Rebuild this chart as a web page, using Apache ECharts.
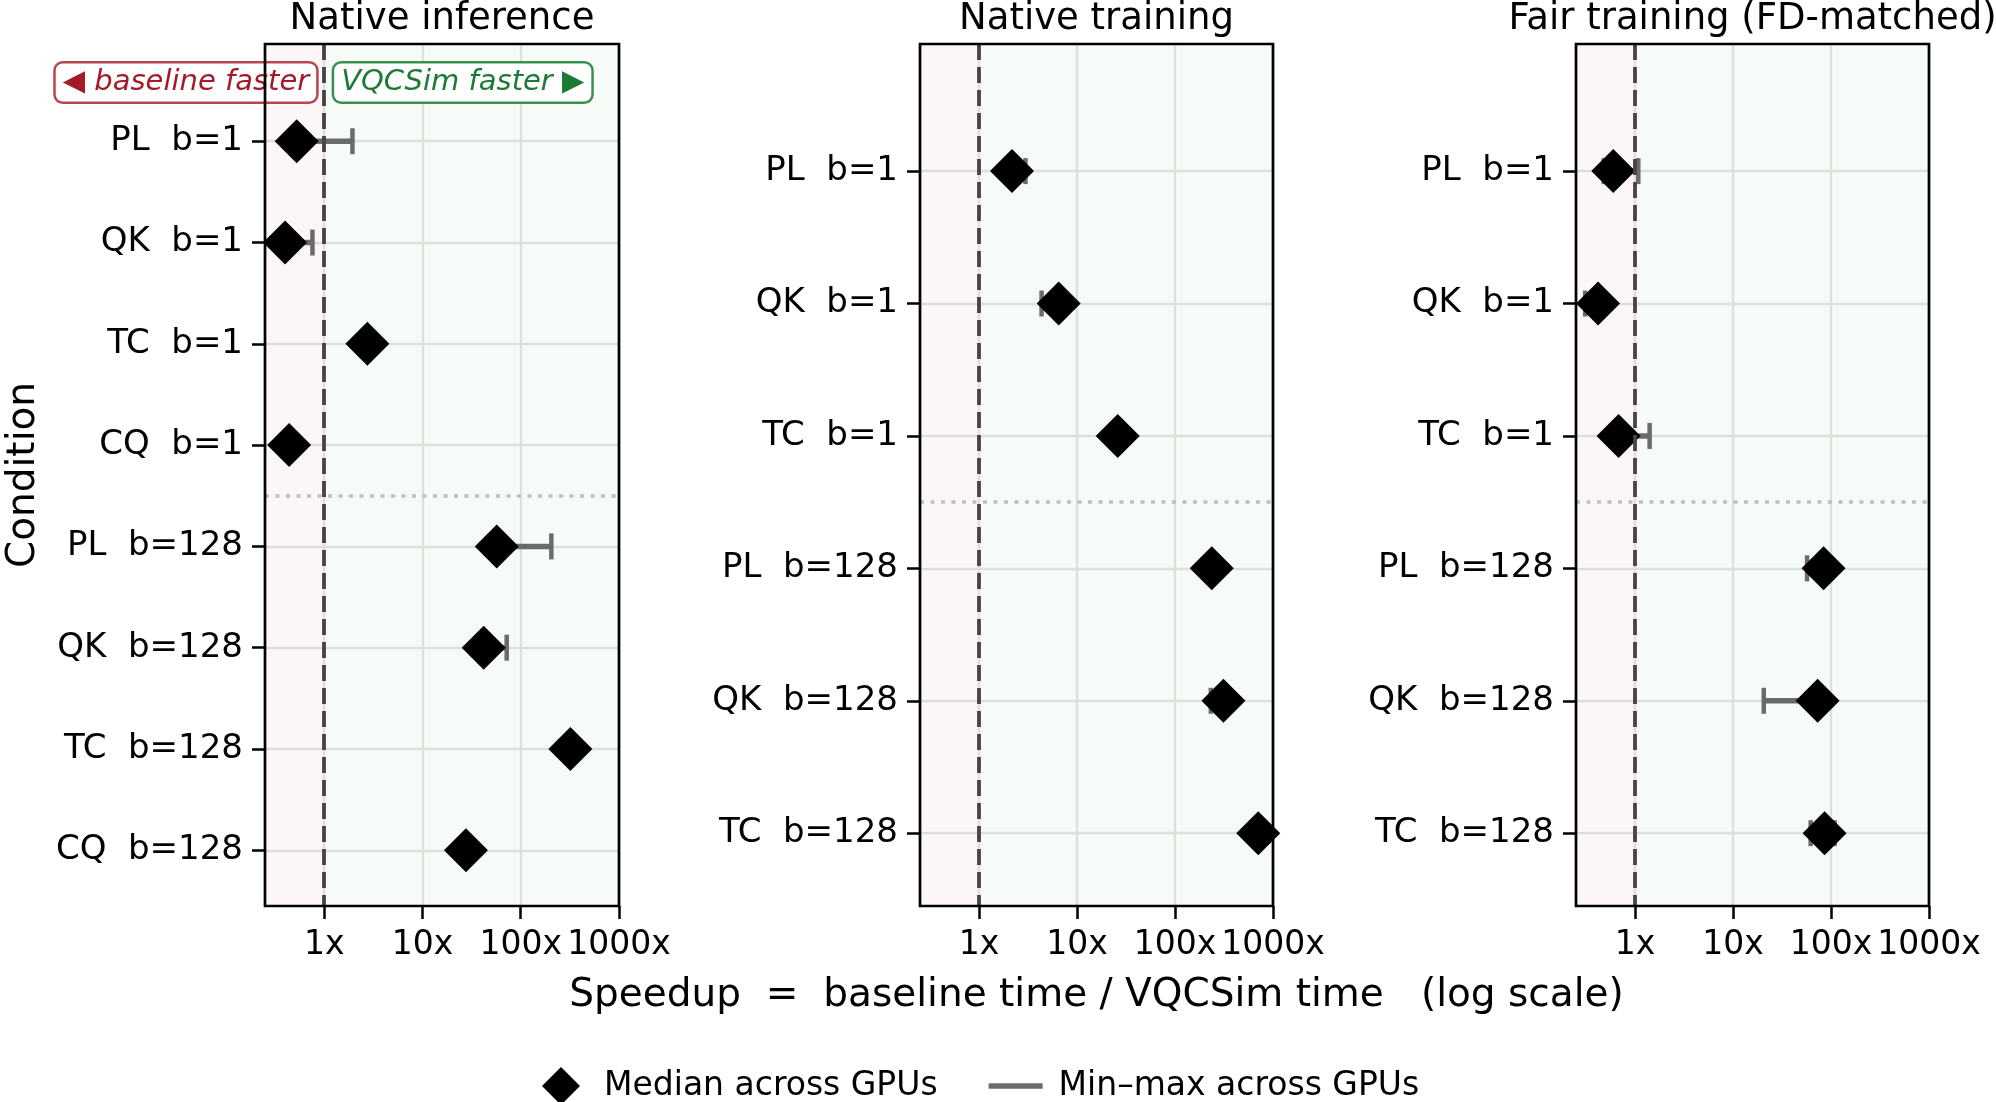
<!DOCTYPE html>
<html>
<head>
<meta charset="utf-8">
<script src="https://cdn.jsdelivr.net/npm/echarts@6/dist/echarts.min.js"></script>
<style>
  html, body { margin: 0; padding: 0; background: #fff; }
  #speedup-chart { width: 1996px; height: 1102px; }
</style>
</head>
<body>
<div id="speedup-chart"></div>
<script>
// panel titles
const panelTitles = ['Native inference', 'Native training', 'Fair training (FD-matched)'];

// row labels
const inferenceLabels = ['PL  b=1', 'QK  b=1', 'TC  b=1', 'CQ  b=1', 'PL  b=128', 'QK  b=128', 'TC  b=128', 'CQ  b=128'];
const trainingLabels = ['PL  b=1', 'QK  b=1', 'TC  b=1', 'PL  b=128', 'QK  b=128', 'TC  b=128'];

// speedup (baseline / VQCSim)
const inferenceMedian = [0.525, 0.40, 2.75, 0.44, 57, 42, 320, 27.7];
const inferenceMin = [0.50, 0.38, 2.7, 0.43, 55, 40, 310, 27];
const inferenceMax = [1.94, 0.76, 2.8, 0.45, 205, 72, 330, 28.5];

const trainingMedian = [2.17, 6.5, 26, 237, 312, 707];
const trainingMin = [1.85, 4.35, 25, 225, 232, 690];
const trainingMax = [2.98, 7.0, 27, 250, 330, 720];

const fairMedian = [0.60, 0.42, 0.68, 84, 73, 86];
const fairMin = [0.48, 0.31, 0.62, 57, 20.6, 62];
const fairMax = [1.08, 0.45, 1.41, 90, 80, 109];

const xTicks = [1, 10, 100, 1000];
const annotations = ['◀ baseline faster', 'VQCSim faster ▶'];

const FONT = 'DejaVu Sans';
const BAR = '#6b6b6b';
const GRIDLINE = '#e2e4e2';

const panels = [
  {labels: inferenceLabels, med: inferenceMedian, lo: inferenceMin, hi: inferenceMax, split: 3.5},
  {labels: trainingLabels, med: trainingMedian, lo: trainingMin, hi: trainingMax, split: 2.5},
  {labels: trainingLabels, med: fairMedian, lo: fairMin, hi: fairMax, split: 2.5}
];
const gridBoxes = [
  {left: 265, top: 44, width: 354, height: 862},
  {left: 920, top: 44, width: 353, height: 862},
  {left: 1576, top: 44, width: 353, height: 862}
];

function renderBar(params, api) {
  const y = api.value(2);
  const a = api.coord([api.value(0), y]);
  const b = api.coord([api.value(1), y]);
  const h = 13;
  return {
    type: 'group',
    children: [
      {type: 'line', shape: {x1: a[0], y1: a[1], x2: b[0], y2: b[1]}, style: {stroke: BAR, lineWidth: 5.5}},
      {type: 'line', shape: {x1: a[0], y1: a[1] - h, x2: a[0], y2: a[1] + h}, style: {stroke: BAR, lineWidth: 4.5}},
      {type: 'line', shape: {x1: b[0], y1: b[1] - h, x2: b[0], y2: b[1] + h}, style: {stroke: BAR, lineWidth: 4.5}}
    ]
  };
}

const xAxes = [];
const yAxes = [];
const series = [];

panels.forEach((p, i) => {
  const rows = p.labels.map((_, k) => k);
  xAxes.push({
    type: 'log', logBase: 10, gridIndex: i, min: 0.25, max: 1000,
    axisLine: {show: false, onZero: false},
    axisTick: {show: true, customValues: xTicks, length: 13, lineStyle: {color: '#000', width: 2.5}},
    axisLabel: {customValues: xTicks, formatter: v => Math.round(v) + 'x', margin: 23,
      fontSize: 33, color: '#000', fontFamily: FONT},
    splitLine: {show: true, lineStyle: {color: GRIDLINE, width: 2.4}},
    name: i === 1 ? 'Speedup  =  baseline time / VQCSim time   (log scale)' : '',
    nameLocation: 'middle', nameGap: 70,
    nameTextStyle: {fontSize: 39, color: '#000', fontFamily: FONT}
  });
  yAxes.push({
    type: 'value', gridIndex: i, inverse: true, min: -0.96, max: p.labels.length - 0.45,
    axisLine: {show: false, onZero: false},
    axisTick: {show: true, customValues: rows, length: 13, lineStyle: {color: '#000', width: 2.5}},
    axisLabel: {customValues: rows, formatter: v => p.labels[Math.round(v)], margin: 22,
      fontSize: 34, color: '#000', fontFamily: FONT},
    splitLine: {show: true, lineStyle: {color: GRIDLINE, width: 2.4}},
    name: i === 0 ? 'Condition' : '',
    nameLocation: 'middle', nameGap: 222,
    nameTextStyle: {fontSize: 39, color: '#000', fontFamily: FONT}
  });

  // min-max bars + shaded regions + group separator
  series.push({
    name: 'Min–max across GPUs', type: 'custom', xAxisIndex: i, yAxisIndex: i, z: 2,
    itemStyle: {color: BAR},
    encode: {x: [0, 1], y: 2},
    data: rows.map(k => [p.lo[k], p.hi[k], k]),
    renderItem: renderBar,
    markArea: {
      silent: true,
      data: [
        [{xAxis: 0.25, itemStyle: {color: 'rgba(214,39,40,0.045)'}}, {xAxis: 1}],
        [{xAxis: 1, itemStyle: {color: 'rgba(44,160,44,0.04)'}}, {xAxis: 1000}]
      ]
    },
    markLine: {
      silent: true, symbol: 'none', label: {show: false},
      lineStyle: {color: '#c0c0c0', type: [4, 6.5], width: 3.6},
      data: [{yAxis: p.split}]
    }
  });

  series.push({
    name: 'Median across GPUs', type: 'scatter', xAxisIndex: i, yAxisIndex: i, z: 3,
    symbol: 'diamond', symbolSize: 44,
    itemStyle: {color: '#000', opacity: 1},
    data: rows.map(k => [p.med[k], k])
  });

  // parity line at 1x (drawn on top)
  const ref = {
    name: 'parity', type: 'line', xAxisIndex: i, yAxisIndex: i, z: 4, data: [],
    markLine: {
      silent: true, symbol: 'none', label: {show: false},
      lineStyle: {color: '#444', type: [16, 7], width: 3.8},
      data: [{xAxis: 1}]
    }
  };
  if (i === 0) {
    const boxLabel = {
      show: true, fontSize: 29, fontStyle: 'italic', fontFamily: FONT, lineHeight: 32,
      backgroundColor: '#fff', borderWidth: 2.5, borderRadius: 7, padding: [3, 7, 3, 7]
    };
    ref.markPoint = {
      silent: true, symbol: 'circle', symbolSize: 0,
      data: [
        {coord: [1, -0.58], label: Object.assign({}, boxLabel, {
          position: 'left', distance: 8, formatter: annotations[0],
          color: '#a31b2a', borderColor: '#b8464f'})},
        {coord: [1, -0.58], label: Object.assign({}, boxLabel, {
          position: 'right', distance: 10, formatter: annotations[1],
          color: '#1b7a34', borderColor: '#3a8f4e'})}
      ]
    };
  }
  series.push(ref);
});

const option = {
  animation: false,
  backgroundColor: '#fff',
  title: panelTitles.map((t, i) => ({
    text: t, left: gridBoxes[i].left + gridBoxes[i].width / 2, top: 1, padding: 0,
    textAlign: 'center',
    textStyle: {fontSize: 37, fontWeight: 'normal', color: '#000', fontFamily: FONT}
  })),
  grid: gridBoxes.map(g => Object.assign({
    show: true, z: 10, backgroundColor: 'transparent', borderColor: '#000', borderWidth: 2.7
  }, g)),
  legend: {
    left: 537, top: 1062, itemWidth: 54, itemHeight: 38, itemGap: 51,
    selectedMode: false,
    textStyle: {fontSize: 33, color: '#000', fontFamily: FONT, padding: [0, 0, 0, 11]},
    data: [
      {name: 'Median across GPUs', icon: 'path://M0,-10L10,0L0,10L-10,0Z', itemStyle: {color: '#000'}},
      {name: 'Min–max across GPUs', icon: 'path://M0,0L54,0L54,5.5L0,5.5Z', itemStyle: {color: BAR}}
    ]
  },
  xAxis: xAxes,
  yAxis: yAxes,
  series: series
};

const myChart = echarts.init(document.getElementById('speedup-chart'));
myChart.setOption(option);
</script>
</body>
</html>
